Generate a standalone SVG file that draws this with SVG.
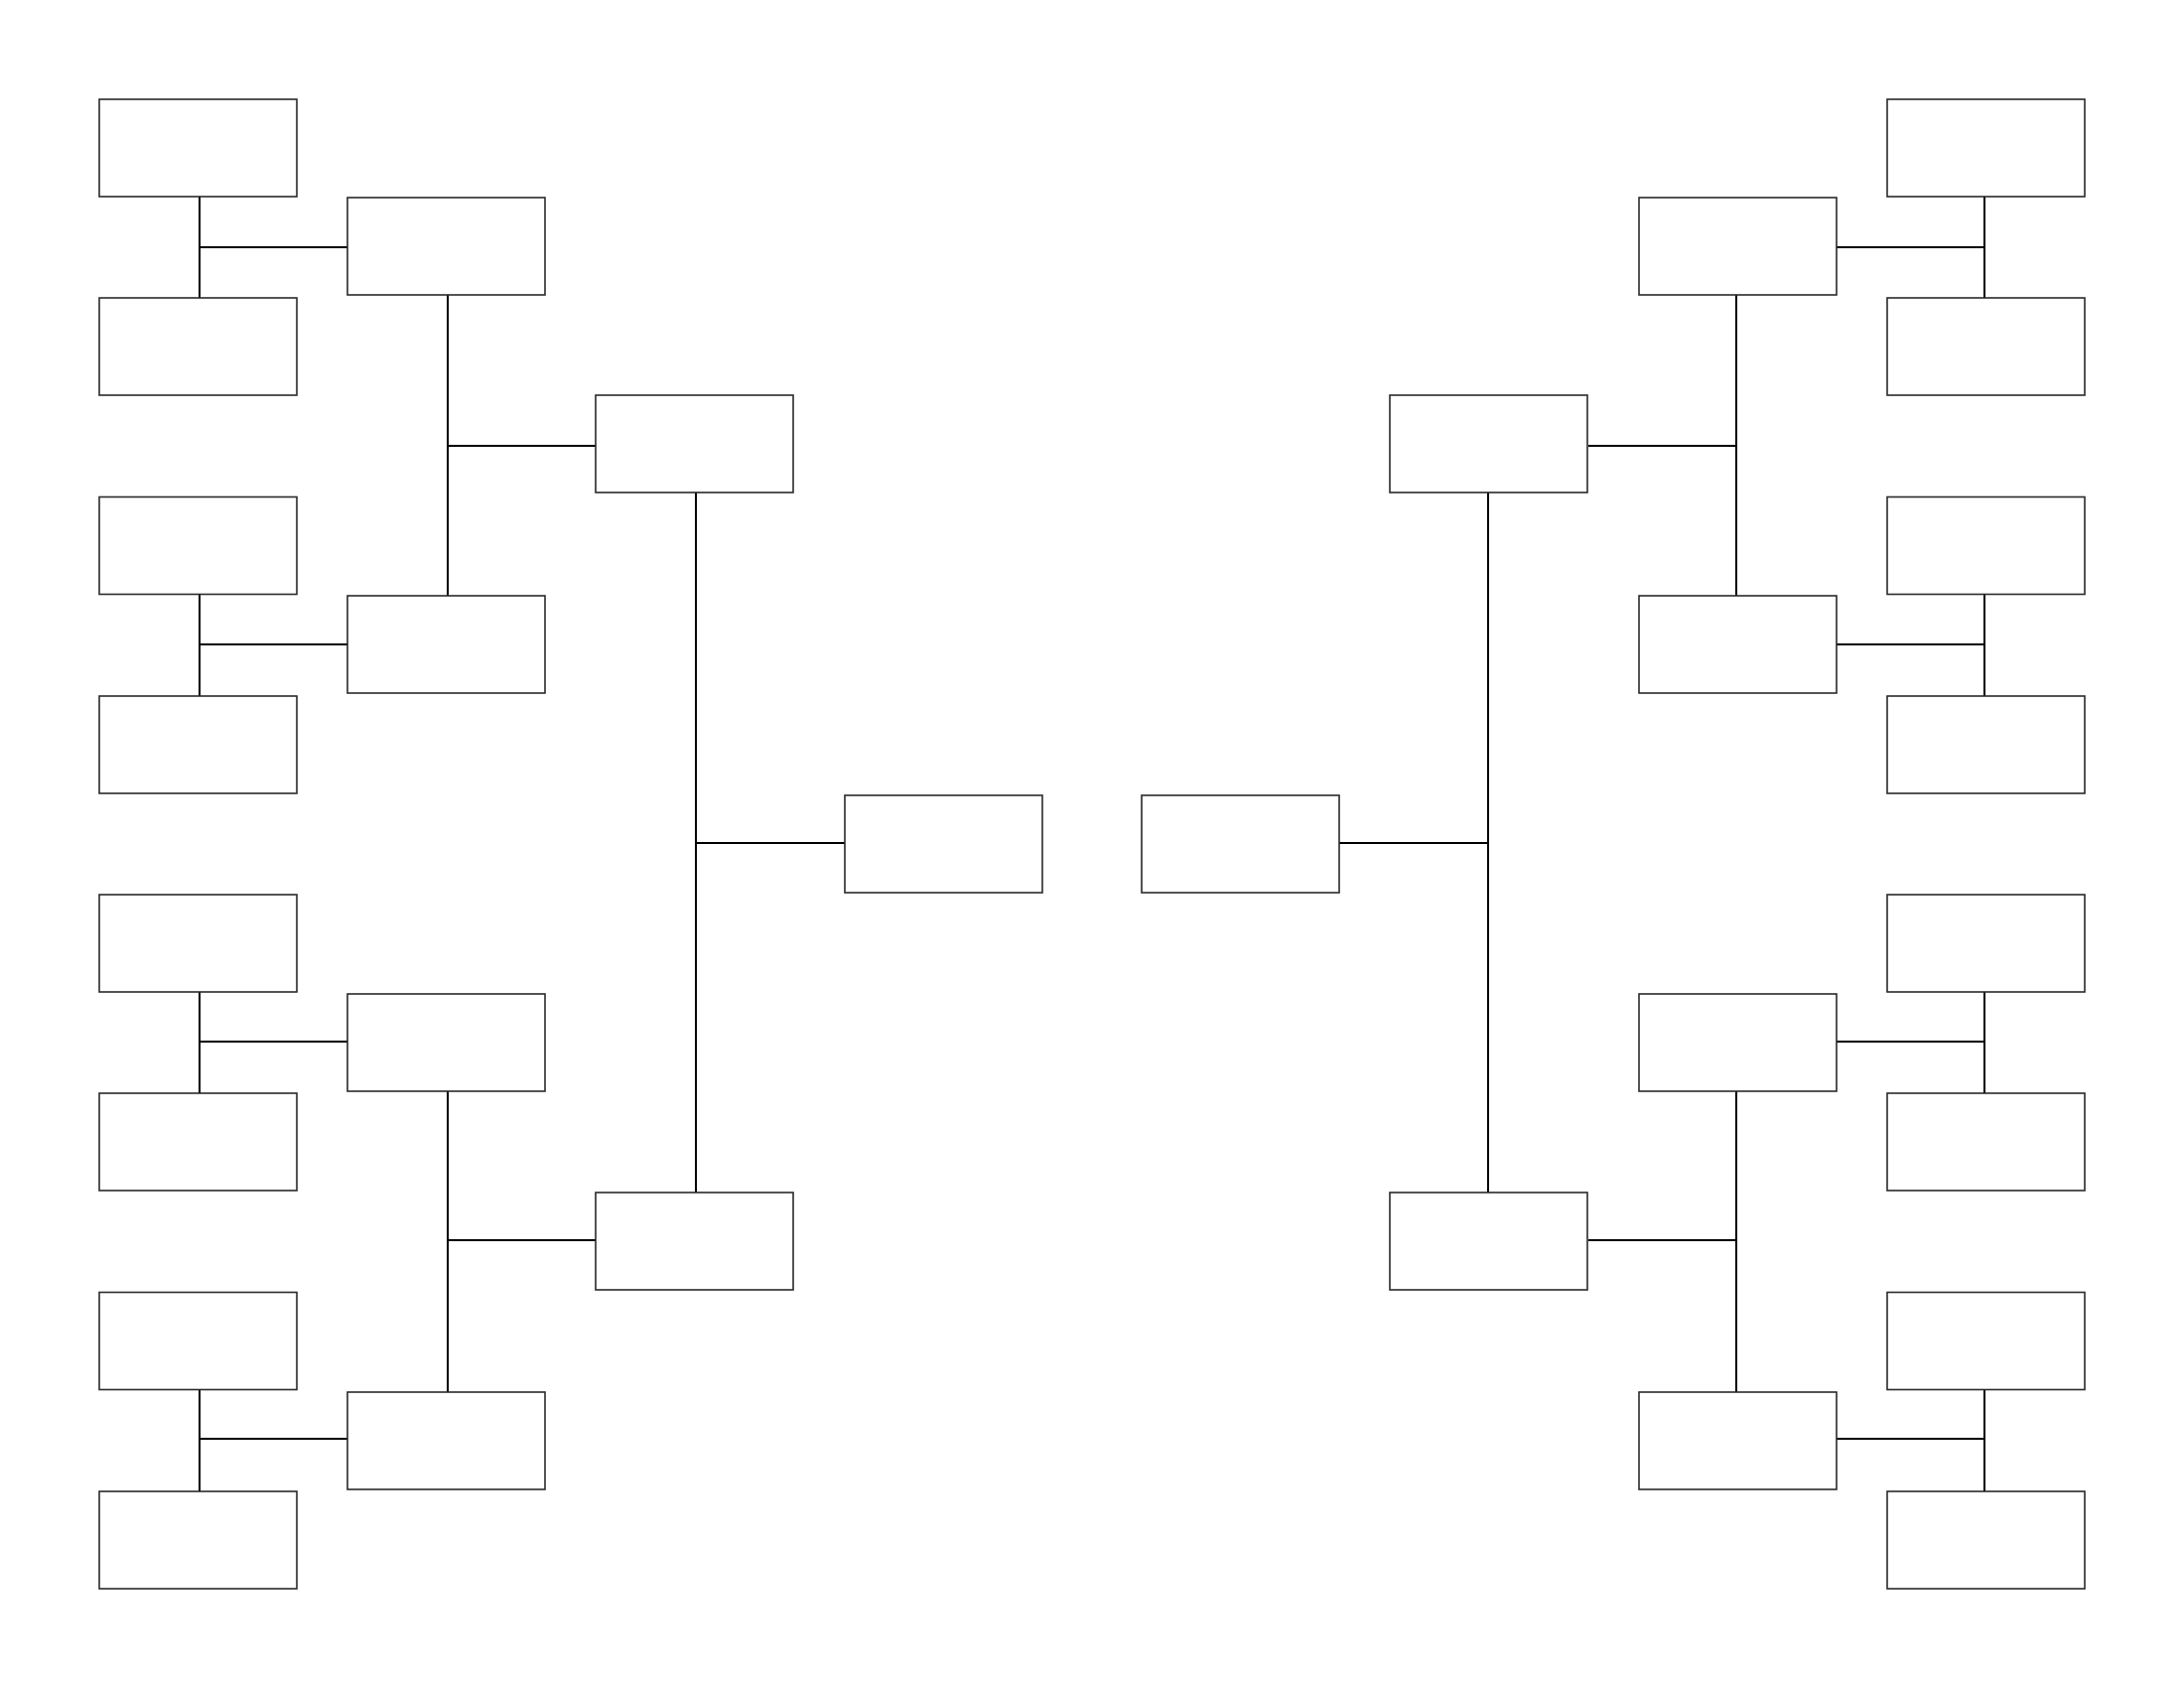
<svg xmlns="http://www.w3.org/2000/svg" width="2200" height="1700" viewBox="0 0 2200 1700">
<style>
.n{fill:#fff;stroke:#2a2a2a;stroke-width:1.6}
.c{stroke:#000;stroke-width:2;fill:none}
</style>
<rect width="2200" height="1700" fill="#fff"/>
<g id="connectors">
<path class="c" d="M201 198V300M201 249H350M201 598V701M201 649H350M201 999V1101M201 1049H350M201 1399V1502M201 1449H350"/>
<path class="c" d="M451 297V600M451 449H600M451 1099V1402M451 1249H600"/>
<path class="c" d="M701 496V1201M701 849H851"/>
<path class="c" d="M1999 198V300M1999 249H1850M1999 598V701M1999 649H1850M1999 999V1101M1999 1049H1850M1999 1399V1502M1999 1449H1850"/>
<path class="c" d="M1749 297V600M1749 449H1600M1749 1099V1402M1749 1249H1600"/>
<path class="c" d="M1499 496V1201M1499 849H1349"/>
</g>
<g id="L1a"><rect class="n" x="100" y="100" width="199" height="98"/></g>
<g id="L1b"><rect class="n" x="100" y="300" width="199" height="98"/></g>
<g id="L1c"><rect class="n" x="100" y="500.5" width="199" height="98"/></g>
<g id="L1d"><rect class="n" x="100" y="701" width="199" height="98"/></g>
<g id="L1e"><rect class="n" x="100" y="901" width="199" height="98"/></g>
<g id="L1f"><rect class="n" x="100" y="1101" width="199" height="98"/></g>
<g id="L1g"><rect class="n" x="100" y="1301.5" width="199" height="98"/></g>
<g id="L1h"><rect class="n" x="100" y="1502" width="199" height="98"/></g>
<g id="L2a"><rect class="n" x="350" y="199" width="199" height="98"/></g>
<g id="L2b"><rect class="n" x="350" y="600" width="199" height="98"/></g>
<g id="L2c"><rect class="n" x="350" y="1001" width="199" height="98"/></g>
<g id="L2d"><rect class="n" x="350" y="1402" width="199" height="98"/></g>
<g id="L3a"><rect class="n" x="600" y="398" width="199" height="98"/></g>
<g id="L3b"><rect class="n" x="600" y="1201" width="199" height="98"/></g>
<g id="LF"><rect class="n" x="851" y="801" width="199" height="98"/></g>
<g id="RF"><rect class="n" x="1150" y="801" width="199" height="98"/></g>
<g id="R3a"><rect class="n" x="1400" y="398" width="199" height="98"/></g>
<g id="R3b"><rect class="n" x="1400" y="1201" width="199" height="98"/></g>
<g id="R2a"><rect class="n" x="1651" y="199" width="199" height="98"/></g>
<g id="R2b"><rect class="n" x="1651" y="600" width="199" height="98"/></g>
<g id="R2c"><rect class="n" x="1651" y="1001" width="199" height="98"/></g>
<g id="R2d"><rect class="n" x="1651" y="1402" width="199" height="98"/></g>
<g id="R1a"><rect class="n" x="1901" y="100" width="199" height="98"/></g>
<g id="R1b"><rect class="n" x="1901" y="300" width="199" height="98"/></g>
<g id="R1c"><rect class="n" x="1901" y="500.5" width="199" height="98"/></g>
<g id="R1d"><rect class="n" x="1901" y="701" width="199" height="98"/></g>
<g id="R1e"><rect class="n" x="1901" y="901" width="199" height="98"/></g>
<g id="R1f"><rect class="n" x="1901" y="1101" width="199" height="98"/></g>
<g id="R1g"><rect class="n" x="1901" y="1301.5" width="199" height="98"/></g>
<g id="R1h"><rect class="n" x="1901" y="1502" width="199" height="98"/></g>
</svg>
